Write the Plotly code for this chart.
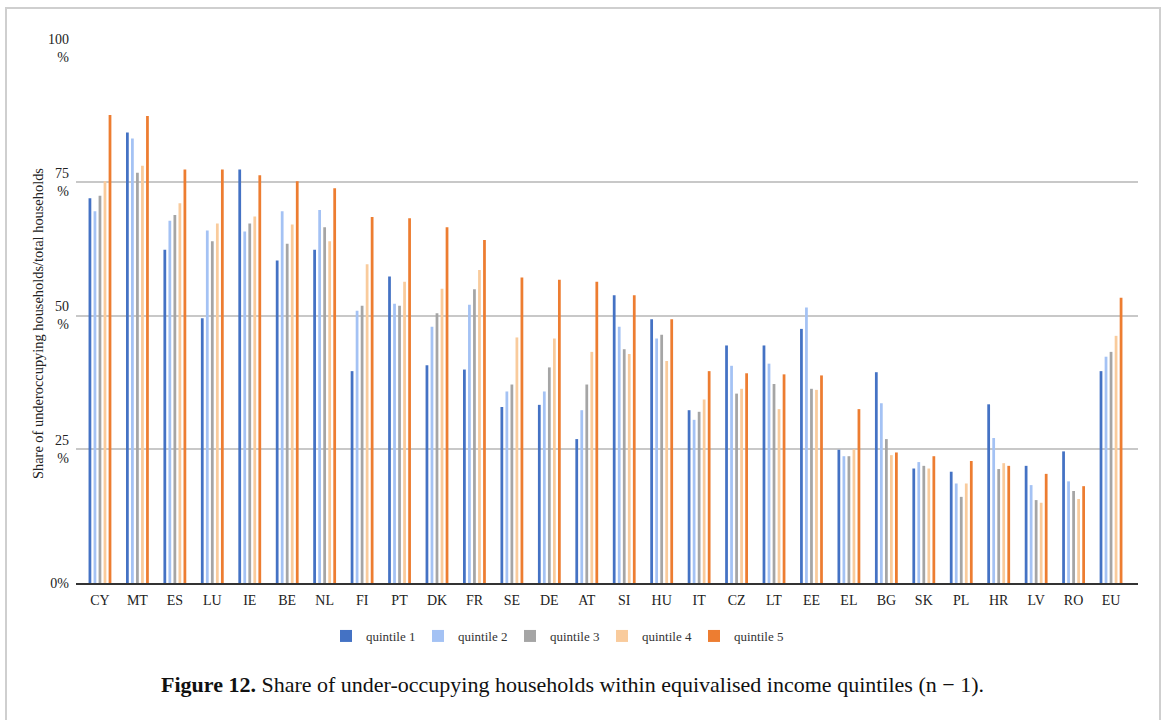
import plotly.graph_objects as go

countries = ["CY", "MT", "ES", "LU", "IE", "BE", "NL", "FI", "PT", "DK", "FR", "SE", "DE", "AT",
             "SI", "HU", "IT", "CZ", "LT", "EE", "EL", "BG", "SK", "PL", "HR", "LV", "RO", "EU"]

quintile_1 = [71.9, 84.2, 62.3, 49.5, 77.3, 60.3, 62.3, 39.6, 57.3, 40.7, 39.9, 32.9, 33.3, 26.9,
              53.8, 49.3, 32.3, 44.4, 44.4, 47.5, 24.9, 39.4, 21.4, 20.8, 33.4, 21.9, 24.6, 39.6]
quintile_2 = [69.5, 83.1, 67.7, 65.9, 65.7, 69.5, 69.7, 50.9, 52.2, 47.9, 52.0, 35.8, 35.8, 32.3,
              47.9, 45.7, 30.5, 40.6, 41.0, 51.5, 23.7, 33.6, 22.6, 18.6, 27.1, 18.3, 19.0, 42.3]
quintile_3 = [72.4, 76.7, 68.8, 63.9, 67.2, 63.4, 66.5, 51.8, 51.8, 50.4, 54.9, 37.1, 40.3, 37.1,
              43.7, 46.4, 32.0, 35.4, 37.2, 36.3, 23.7, 26.9, 21.9, 16.1, 21.3, 15.5, 17.2, 43.2]
quintile_4 = [75.1, 78.0, 71.0, 67.2, 68.5, 67.0, 63.9, 59.6, 56.3, 55.0, 58.5, 45.9, 45.7, 43.2,
              42.8, 41.5, 34.3, 36.3, 32.5, 36.1, 25.0, 23.9, 21.4, 18.6, 22.4, 15.0, 15.7, 46.2]
quintile_5 = [87.5, 87.3, 77.3, 77.3, 76.2, 75.1, 73.8, 68.4, 68.2, 66.5, 64.1, 57.1, 56.7, 56.3,
              53.8, 49.3, 39.6, 39.2, 39.0, 38.8, 32.5, 24.4, 23.7, 22.8, 21.9, 20.4, 18.1, 53.3]

series_names = ["quintile 1", "quintile 2", "quintile 3", "quintile 4", "quintile 5"]
series_values = [quintile_1, quintile_2, quintile_3, quintile_4, quintile_5]
colors = ["#4472C4", "#A4C2F4", "#A5A5A5", "#F9CB9C", "#ED7D31"]

ytick_vals = [0, 25, 50, 75, 100]
ytick_text = ["0%", "25<br>%", "50<br>%", "75<br>%", "100<br>%"]

SERIF = "Liberation Serif, Times New Roman, serif"

fig = go.Figure()
for name, vals, col in zip(series_names, series_values, colors):
    fig.add_trace(go.Bar(x=countries, y=vals, name=name, marker_color=col,
                         marker_line_width=0))

W, H = 1165, 720
L, R, T, B = 76, 1138, 48, 583


def px_x(p):
    return (p - L) / (R - L)


def px_y(p):
    return (B - p) / (B - T)


fig.update_layout(
    width=W, height=H,
    margin=dict(l=L, r=W - R, t=T, b=H - B, autoexpand=False),
    paper_bgcolor="white", plot_bgcolor="white",
    barmode="group", bargap=0.33, bargroupgap=0.45,
    font=dict(family=SERIF, color="#222222", size=14),
    showlegend=True,
    legend=dict(orientation="h", x=px_x(326), xanchor="left", y=px_y(636), yanchor="middle",
                font=dict(size=13, family=SERIF, color="#333333"),
                entrywidth=47, entrywidthmode="pixels", traceorder="normal",
                itemwidth=30),
    xaxis=dict(type="category", range=[-0.64, 27.72], showgrid=False,
               showline=True, linecolor="#333333", linewidth=2,
               ticks="", ticklabelstandoff=3,
               tickfont=dict(size=14, family=SERIF, color="#222222"),
               automargin=False),
    yaxis=dict(range=[0, 100], tickvals=ytick_vals, ticktext=ytick_text,
               showgrid=True, gridcolor="#C8C8C8", gridwidth=1.6,
               zeroline=False, showline=False, ticks="", ticklabelstandoff=6,
               tickfont=dict(size=14, family=SERIF, color="#222222"),
               automargin=False),
    shapes=[dict(type="rect", xref="paper", yref="paper",
                 x0=px_x(6), x1=px_x(1160), y0=px_y(740), y1=px_y(8),
                 line=dict(color="#CFCFCF", width=2), fillcolor="rgba(0,0,0,0)",
                 layer="below")],
    annotations=[
        dict(xref="paper", yref="paper", x=px_x(38), y=px_y(324),
             xanchor="center", yanchor="middle", showarrow=False, textangle=-90,
             text="Share of underoccupying households/total households",
             font=dict(size=14.4, family=SERIF, color="#222222")),
        dict(xref="paper", yref="paper", x=px_x(572), y=px_y(684),
             xanchor="center", yanchor="middle", showarrow=False,
             text="<b>Figure 12.</b> Share of under-occupying households within equivalised income quintiles (n − 1).",
             font=dict(size=22, family=SERIF, color="#111111")),
    ],
)

fig.write_html("out.html", config={"displayModeBar": False},
               post_script="document.body.style.margin='0';document.body.style.overflow='hidden';")
